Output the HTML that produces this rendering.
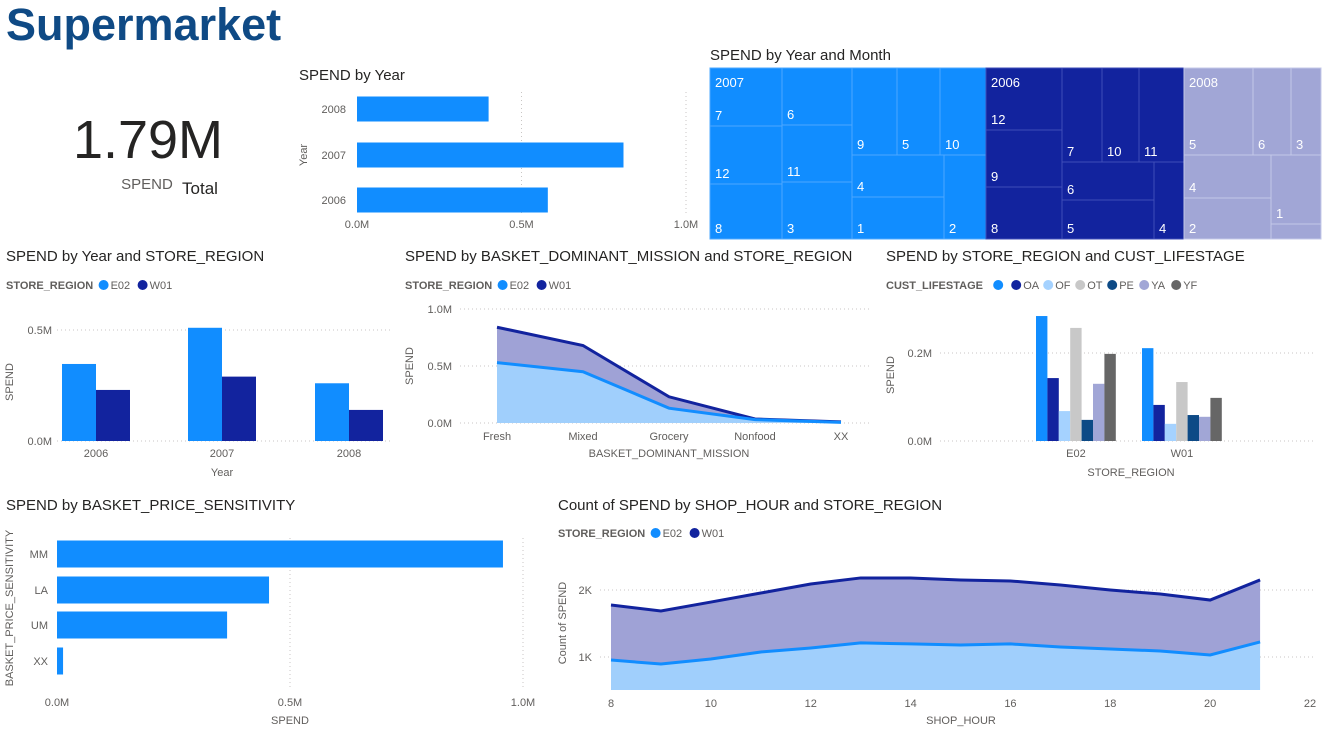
<!DOCTYPE html>
<html><head><meta charset="utf-8"><style>
html,body{margin:0;padding:0;background:#fff;width:1326px;height:740px;overflow:hidden}
svg{display:block;font-family:"Liberation Sans",sans-serif}
.t{font-size:15px;fill:#252423}
.k{font-size:11px;fill:#605E5C}
.lg{font-size:11px;fill:#605E5C;font-weight:bold}
.tm{font-size:13px;fill:#fff}
</style></head><body>
<svg id="s" width="1326" height="740">
<text x="6" y="40" font-size="45" font-weight="bold" fill="#0F4A85">Supermarket</text>
<g>
<text x="148" y="158" font-size="54" text-anchor="middle" fill="#252423">1.79M</text>
<text x="147" y="189" font-size="15" text-anchor="middle" fill="#605E5C">SPEND</text>
<text x="200" y="194" font-size="17" text-anchor="middle" fill="#252423">Total</text>
</g>
<text class="t" x="299" y="80">SPEND by Year</text>
<text class="t" x="710" y="60">SPEND by Year and Month</text>
<text class="t" x="6" y="261">SPEND by Year and STORE_REGION</text>
<text class="t" x="405" y="261">SPEND by BASKET_DOMINANT_MISSION and STORE_REGION</text>
<text class="t" x="886" y="261">SPEND by STORE_REGION and CUST_LIFESTAGE</text>
<text class="t" x="6" y="510">SPEND by BASKET_PRICE_SENSITIVITY</text>
<text class="t" x="558" y="510">Count of SPEND by SHOP_HOUR and STORE_REGION</text>
<g id="g"></g>
</svg>
<script>
// ---- data ----
const yearCats=['2008','2007','2006'];
const yearVals=[0.40,0.81,0.58];
const yrCats=['2006','2007','2008'];
const yrE02=[0.347,0.51,0.26];
const yrW01=[0.23,0.29,0.14];
const missionCats=['Fresh','Mixed','Grocery','Nonfood','XX'];
const missionE02=[0.53,0.45,0.13,0.03,0.005];
const missionW01=[0.31,0.23,0.10,0.005,0.005];
const lifeCats=['E02','W01'];
const lifeSeries=['','OA','OF','OT','PE','YA','YF'];
const lifeE02=[0.284,0.143,0.068,0.257,0.048,0.13,0.198];
const lifeW01=[0.211,0.082,0.039,0.134,0.059,0.055,0.098];
const priceCats=['MM','LA','UM','XX'];
const priceVals=[0.957,0.455,0.365,0.013];
const hours=[8,9,10,11,12,13,14,15,16,17,18,19,20,21];
const hourE02=[955,895,970,1075,1135,1210,1195,1180,1195,1150,1120,1090,1030,1225];
const hourW01=[821,792,850,880,955,970,985,970,940,925,880,850,820,925];
const hourTicks=[8,10,12,14,16,18,20,22];
const treemapCells=[ // [label, x, y, w, h, color]
['7',710,68,72,58,0],['12',710,126,72,58,0],['8',710,184,72,55,0],['6',782,68,70,57,0],['11',782,125,70,57,0],['3',782,182,70,57,0],
['9',852,68,45,87,0],['5',897,68,43,87,0],['10',940,68,46,87,0],['4',852,155,92,42,0],['1',852,197,92,42,0],['2',944,155,42,84,0],
['12',986,68,76,62,1],['9',986,130,76,57,1],['8',986,187,76,52,1],['7',1062,68,40,94,1],['10',1102,68,37,94,1],['11',1139,68,45,94,1],
['6',1062,162,92,38,1],['5',1062,200,92,39,1],['4',1154,162,30,77,1],
['5',1184,68,69,87,2],['6',1253,68,38,87,2],['3',1291,68,30,87,2],['4',1184,155,87,43,2],['2',1184,198,87,41,2],['1',1271,155,50,69,2],['',1271,224,50,15,2]];
const treemapYears=[['2007',710],['2006',986],['2008',1184]];
const C1='#118DFF',C2='#12239E',A1='#A0CFFC',A2='#9FA2D6';
const lifeColors=['#118DFF','#12239E','#A5D2FF','#C8C8C8','#0D4A86','#A1A6D6','#666666'];
const tmColors=['#118DFF','#12239E','#A1A6D6'];

const NS='http://www.w3.org/2000/svg',G=document.getElementById('g');
function el(tag,a,txt){const e=document.createElementNS(NS,tag);for(const k in a)e.setAttribute(k,a[k]);if(txt!==undefined)e.textContent=txt;G.appendChild(e);return e;}
function txt(x,y,s,cls,anchor,rot){const a={x:x,y:y,class:cls||'k','text-anchor':anchor||'middle'};if(rot)a.transform='rotate(-90 '+x+' '+y+')';return el('text',a,s);}
function grid(x1,y1,x2,y2){return el('line',{x1:x1,y1:y1,x2:x2,y2:y2,stroke:'#C8C6C4','stroke-dasharray':'1 3','stroke-width':1});}
function legend(x,y,label,items,cols){let t=txt(x,y+4,label,'lg','start');let cx=x+label.length*7.3+10;
 items.forEach((it,i)=>{let c=el('circle',{cx:cx,cy:y,r:5,fill:cols[i]});
 let tt=txt(cx+7,y+4,it,'k','start');cx+=14+it.length*7+4;});}

// ---- SPEND by Year ----
{const x0=357,sc=329,yc=[109,155,200];
 [0.5,1.0].forEach(v=>grid(x0+v*sc,92,x0+v*sc,214));
 yearCats.forEach((c,i)=>{let r=el('rect',{x:x0,y:yc[i]-12.5,width:yearVals[i]*sc,height:25,fill:C1});txt(346,yc[i]+4,c,'k','end');});
 ['0.0M','0.5M','1.0M'].forEach((s,i)=>txt(x0+i*0.5*sc,228,s));
 txt(307,155,'Year','k','middle',true).setAttribute('font-size','10');}

// ---- Treemap ----
treemapCells.forEach(c=>{let r=el('rect',{x:c[1],y:c[2],width:c[3],height:c[4],fill:tmColors[c[5]],stroke:c[5]==1?'#3F4EB8':(c[5]==0?'#4DA8FF':'#C4C8E8'),'stroke-width':1});
 
 if(c[0])txt(c[1]+5,c[2]+c[4]-6,c[0],'tm','start');});
treemapYears.forEach(y=>txt(y[1]+5,87,y[0],'tm','start'));

// ---- Year & Region ----
{const y0=441,sc=222,cx=[96,222,349],bw=34;
 legend(6,285,'STORE_REGION',['E02','W01'],[C1,C2]);
 grid(57,330,390,330);grid(57,441,390,441);
 txt(52,334,'0.5M','k','end');txt(52,445,'0.0M','k','end');
 yrCats.forEach((c,i)=>{let a=el('rect',{x:cx[i]-bw,y:y0-yrE02[i]*sc,width:bw,height:yrE02[i]*sc,fill:C1});
  let b=el('rect',{x:cx[i],y:y0-yrW01[i]*sc,width:bw,height:yrW01[i]*sc,fill:C2});
  txt(cx[i],457,c);});
 txt(222,476,'Year');txt(13,382,'SPEND','k','middle',true).setAttribute('font-size','10');}

// ---- Mission area ----
{const y0=423,sc=114,xs=i=>497+i*86;
 legend(405,285,'STORE_REGION',['E02','W01'],[C1,C2]);
 [0,0.5,1.0].forEach((v,i)=>{grid(460,y0-v*sc,870,y0-v*sc);txt(452,y0-v*sc+4,['0.0M','0.5M','1.0M'][i],'k','end');});
 const e=missionE02.map((v,i)=>[xs(i),y0-v*sc]);const t=missionE02.map((v,i)=>[xs(i),y0-(v+missionW01[i])*sc]);
 const P=a=>a.map(p=>p.join(',')).join(' ');
 let a2=el('polygon',{points:P(t)+' '+P(e.slice().reverse()),fill:A2});
 let a1=el('polygon',{points:P(e)+' '+xs(4)+','+y0+' '+xs(0)+','+y0,fill:A1});
 el('polyline',{points:P(t),fill:'none',stroke:C2,'stroke-width':3});el('polyline',{points:P(e),fill:'none',stroke:C1,'stroke-width':3});
 missionCats.forEach((c,i)=>txt(xs(i),440,c));
 txt(669,457,'BASKET_DOMINANT_MISSION','k');txt(413,366,'SPEND','k','middle',true).setAttribute('font-size','10');}

// ---- Lifestage ----
{const y0=441,sc=440,starts=[1036,1142],bw=11.4;
 legend(886,285,'CUST_LIFESTAGE',lifeSeries,lifeColors);
 grid(940,353,1316,353);grid(940,441,1316,441);
 txt(932,357,'0.2M','k','end');txt(932,445,'0.0M','k','end');
 [lifeE02,lifeW01].forEach((vals,g)=>{vals.forEach((v,i)=>{let r=el('rect',{x:starts[g]+i*bw,y:y0-v*sc,width:bw,height:v*sc,fill:lifeColors[i]});});
  txt(starts[g]+3.5*bw,457,lifeCats[g]);});
 txt(1131,476,'STORE_REGION');txt(894,375,'SPEND','k','middle',true).setAttribute('font-size','10');}

// ---- Price sensitivity ----
{const x0=57,sc=466,yc=[554,590,625,661];
 [0.5,1.0].forEach(v=>grid(x0+v*sc,538,x0+v*sc,690));
 priceCats.forEach((c,i)=>{let r=el('rect',{x:x0,y:yc[i]-13.5,width:priceVals[i]*sc,height:27,fill:C1});txt(48,yc[i]+4,c,'k','end');});
 ['0.0M','0.5M','1.0M'].forEach((s,i)=>txt(x0+i*0.5*sc,706,s));
 txt(290,724,'SPEND');txt(13,608,'BASKET_PRICE_SENSITIVITY','k','middle',true).setAttribute('font-size','10');}

// ---- Shop hour ----
{const xs=h=>611+(h-8)*49.93,ys=v=>657-(v-1000)*0.067,yb=690;
 legend(558,533,'STORE_REGION',['E02','W01'],[C1,C2]);
 grid(600,590,1316,590);grid(600,657,1316,657);
 txt(592,594,'2K','k','end');txt(592,661,'1K','k','end');
 const e=hours.map((h,i)=>[xs(h),ys(hourE02[i])]);const t=hours.map((h,i)=>[xs(h),ys(hourE02[i]+hourW01[i])]);
 const P=a=>a.map(p=>p.join(',')).join(' ');
 let a2=el('polygon',{points:P(t)+' '+P(e.slice().reverse()),fill:A2});
 let a1=el('polygon',{points:P(e)+' '+xs(21)+','+yb+' '+xs(8)+','+yb,fill:A1});
 el('polyline',{points:P(t),fill:'none',stroke:C2,'stroke-width':3});el('polyline',{points:P(e),fill:'none',stroke:C1,'stroke-width':3});
 hourTicks.forEach(h=>txt(xs(h),707,String(h)));
 txt(961,724,'SHOP_HOUR');txt(566,623,'Count of SPEND','k','middle',true).setAttribute('font-size','10');}
</script>
</body></html>
